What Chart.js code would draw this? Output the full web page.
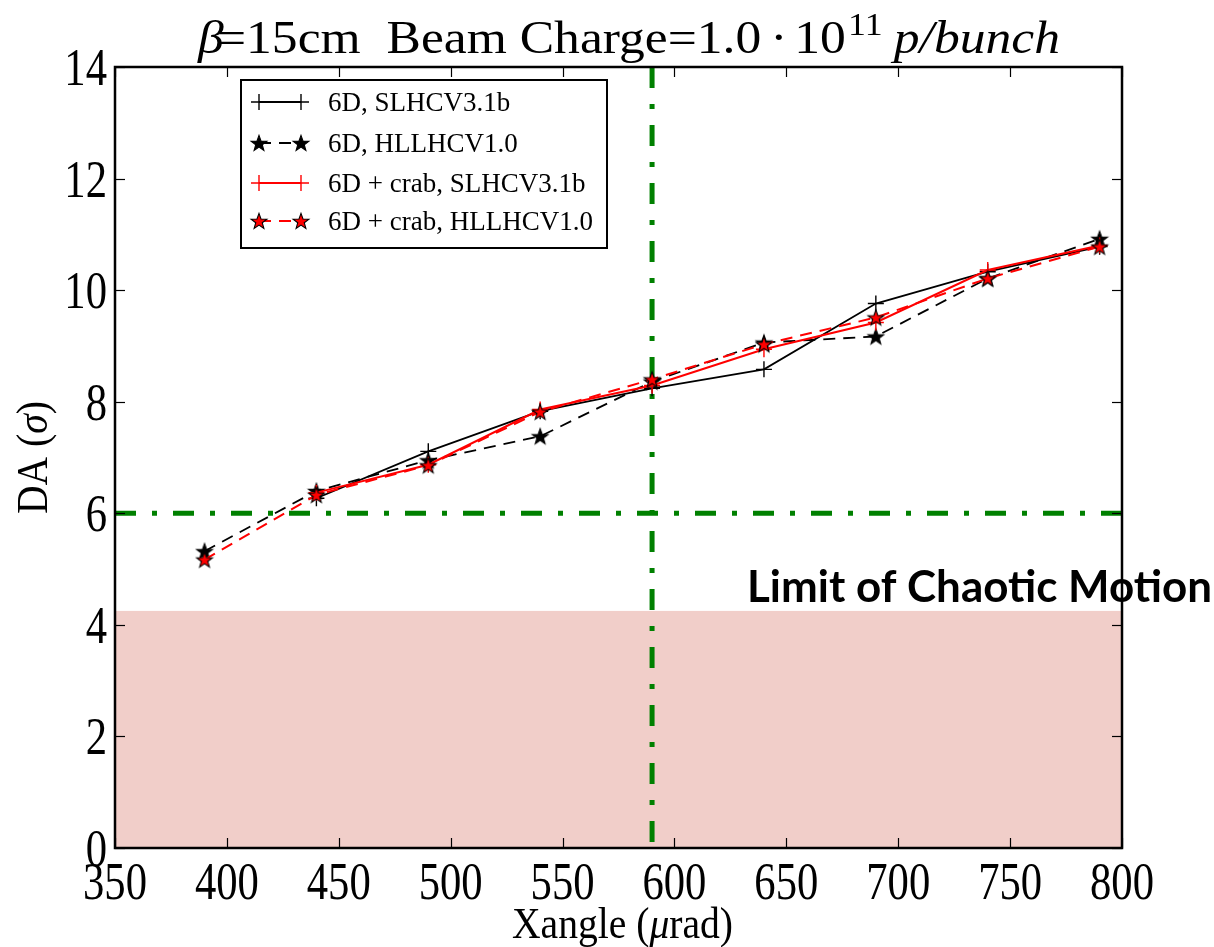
<!DOCTYPE html>
<html>
<head>
<meta charset="utf-8">
<script src="https://cdn.jsdelivr.net/npm/chart.js@4/dist/chart.umd.min.js"></script>
<style>
  html, body { margin: 0; padding: 0; background: #ffffff; }
  #wrap { width: 1214px; height: 947px; position: relative; }
</style>
</head>
<body>
<div id="wrap"><canvas id="c" width="1214" height="947"></canvas></div>
<script>
// Crossing angle scan points (µrad)
const xangles = [390, 440, 490, 540, 590, 640, 690, 740, 790];

// Dynamic aperture (sigma) per configuration
const da6dSLHC      = [null, 6.27, 7.11, 7.83, 8.24, 8.58, 9.76, 10.33, 10.78];
const da6dHLLHC     = [5.32, 6.40, 6.95, 7.38, 8.36, 9.06, 9.17, 10.21, 10.92];
const daCrabSLHC    = [null, 6.37, 6.87, 7.86, 8.29, 8.94, 9.42, 10.36, 10.80];
const daCrabHLLHC   = [5.17, 6.33, 6.86, 7.82, 8.40, 9.03, 9.51, 10.21, 10.78];

const seriesLabels = [
  '6D, SLHCV3.1b',
  '6D, HLLHCV1.0',
  '6D + crab, SLHCV3.1b',
  '6D + crab, HLLHCV1.0'
];

// Axis ticks
const xTicks = [350, 400, 450, 500, 550, 600, 650, 700, 750, 800];
const yTicks = [0, 2, 4, 6, 8, 10, 12, 14];

// Reference levels
const chaoticLimit = 4.25;   // top of the shaded band
const targetDA = 6;          // horizontal guide
const nominalXangle = 590;   // vertical guide

const SERIF = '"Liberation Serif", "DejaVu Serif", serif';

// Filled five-pointed star used as a marker
function makeStar(fill, edge) {
  const size = 20, c = document.createElement('canvas');
  c.width = size; c.height = size;
  const g = c.getContext('2d');
  const R = 8.3, r = 3.4, cx = size / 2, cy = size / 2 + 0.7;
  g.beginPath();
  for (let i = 0; i < 10; i++) {
    const rad = i % 2 === 0 ? R : r;
    const a = -Math.PI / 2 + i * Math.PI / 5;
    const px = cx + rad * Math.cos(a), py = cy + rad * Math.sin(a);
    if (i === 0) g.moveTo(px, py); else g.lineTo(px, py);
  }
  g.closePath();
  g.fillStyle = fill; g.fill();
  g.lineWidth = 1.1; g.strokeStyle = edge; g.stroke();
  return c;
}
const starBlack = makeStar('#000000', '#000000');
const starRed = makeStar('#ff0000', '#000000');

function pts(vals) {
  return xangles.map((x, i) => ({ x: x, y: vals[i] })).filter(p => p.y !== null);
}

// Draw text with an optional horizontal squeeze; returns drawn width
function drawText(ctx, s, x, y, font, opt) {
  opt = opt || {};
  ctx.save();
  ctx.font = font;
  ctx.textAlign = 'left';
  ctx.textBaseline = opt.baseline || 'alphabetic';
  const w = ctx.measureText(s).width;
  const sx = opt.width ? opt.width / w : (opt.sx || 1);
  let left = x;
  if (opt.align === 'center') left = x - w * sx / 2;
  else if (opt.align === 'right') left = x - w * sx;
  ctx.translate(left, y);
  ctx.scale(sx, 1);
  ctx.fillStyle = opt.color || '#000';
  ctx.fillText(s, 0, 0);
  ctx.restore();
  return w * sx;
}

const seriesStyle = [
  { color: '#000000', dash: [], marker: 'cross', width: 1.8 },
  { color: '#000000', dash: [12, 8], marker: starBlack, width: 1.8 },
  { color: '#ff0000', dash: [], marker: 'cross', width: 2 },
  { color: '#ff0000', dash: [12, 8], marker: starRed, width: 2 }
];

const backgroundPlugin = {
  id: 'bands',
  beforeDatasetsDraw(chart) {
    const { ctx, chartArea: a, scales: { x, y } } = chart;
    ctx.save();
    // shaded band below the chaotic-motion limit
    const yTop = y.getPixelForValue(chaoticLimit), yBot = y.getPixelForValue(0);
    ctx.fillStyle = 'rgb(241,206,201)';
    ctx.fillRect(a.left, yTop, a.right - a.left, yBot - yTop);

    // green dash-dot guides
    ctx.strokeStyle = '#008000';
    ctx.lineWidth = 5;
    ctx.setLineDash([21, 16, 5, 16]);
    const yg = y.getPixelForValue(targetDA);
    ctx.beginPath(); ctx.moveTo(a.left, yg); ctx.lineTo(a.right, yg); ctx.stroke();
    const xg = x.getPixelForValue(nominalXangle);
    ctx.beginPath(); ctx.moveTo(xg, a.top); ctx.lineTo(xg, a.bottom); ctx.stroke();
    ctx.restore();
  }
};

const framePlugin = {
  id: 'frame',
  afterDraw(chart) {
    const { ctx, chartArea: a, scales: { x, y } } = chart;
    ctx.save();
    // tick marks on all four sides, pointing inward
    ctx.strokeStyle = '#000'; ctx.lineWidth = 1.2; ctx.setLineDash([]);
    const tl = 10;
    xTicks.forEach(v => {
      const px = Math.round(x.getPixelForValue(v)) + 0.5;
      ctx.beginPath(); ctx.moveTo(px, a.bottom); ctx.lineTo(px, a.bottom - tl); ctx.stroke();
      ctx.beginPath(); ctx.moveTo(px, a.top); ctx.lineTo(px, a.top + tl); ctx.stroke();
    });
    yTicks.forEach(v => {
      const py = Math.round(y.getPixelForValue(v)) + 0.5;
      ctx.beginPath(); ctx.moveTo(a.left, py); ctx.lineTo(a.left + tl, py); ctx.stroke();
      ctx.beginPath(); ctx.moveTo(a.right, py); ctx.lineTo(a.right - tl, py); ctx.stroke();
    });
    // axes frame
    ctx.lineWidth = 2.5;
    ctx.strokeRect(a.left, a.top, a.right - a.left, a.bottom - a.top);

    // tick labels
    const tickFont = '52px ' + SERIF;
    xTicks.forEach(v => {
      drawText(ctx, String(v), x.getPixelForValue(v), a.bottom + 51, tickFont, { align: 'center', sx: 0.82 });
    });
    yTicks.forEach(v => {
      drawText(ctx, String(v), a.left - 8, y.getPixelForValue(v) + 18, tickFont, { align: 'right', sx: 0.82 });
    });

    // axis titles
    const labFont = '44px ' + SERIF, labItal = 'italic 44px ' + SERIF;
    {
      const sx = 0.9;
      ctx.save(); ctx.font = labFont;
      const w1 = ctx.measureText('Xangle (').width;
      const w3 = ctx.measureText('rad)').width;
      ctx.font = labItal;
      const w2 = ctx.measureText('\u03bc').width;
      ctx.restore();
      const total = (w1 + w2 + w3) * sx;
      let cx = (a.left + a.right) / 2 - total / 2 + 4;
      const base = 938;
      cx += drawText(ctx, 'Xangle (', cx, base, labFont, { sx });
      cx += drawText(ctx, '\u03bc', cx, base, labItal, { sx });
      drawText(ctx, 'rad)', cx, base, labFont, { sx });
    }
    {
      ctx.save();
      ctx.translate(47, (a.top + a.bottom) / 2);
      ctx.rotate(-Math.PI / 2);
      const sx = 0.9;
      ctx.font = labFont;
      const w1 = ctx.measureText('DA (').width, w3 = ctx.measureText(')').width;
      ctx.font = labItal;
      const w2 = ctx.measureText('\u03c3').width;
      let cx = -(w1 + w2 + w3) * sx / 2;
      cx += drawText(ctx, 'DA (', cx, 0, labFont, { sx });
      cx += drawText(ctx, '\u03c3', cx, 0, labItal, { sx });
      drawText(ctx, ')', cx, 0, labFont, { sx });
      ctx.restore();
    }

    // title
    {
      const tf = '46px ' + SERIF, ti = 'italic 46px ' + SERIF, sup = '32px ' + SERIF;
      const parts = [
        { s: '\u03b2', f: ti, dy: 0, gap: -6 },
        { s: '=15cm  Beam Charge=1.0', f: tf, dy: 0, gap: 8 },
        { s: '\u00b7', f: tf, dy: 0, gap: 6 },
        { s: '10', f: tf, dy: 0, gap: 2 },
        { s: '11', f: sup, dy: -18, gap: 10 },
        { s: 'p/bunch', f: ti, dy: 0, gap: 0 }
      ];
      ctx.save();
      let nat = 0;
      parts.forEach(p => { ctx.font = p.f; p.w = ctx.measureText(p.s).width; nat += p.w + p.gap; });
      ctx.restore();
      const left = 198, right = 1060;
      const sx = (right - left) / nat;
      let cx = left;
      const base = 53;
      parts.forEach(p => {
        drawText(ctx, p.s, cx, base + p.dy, p.f, { sx });
        cx += (p.w + p.gap) * sx;
      });
    }

    // legend
    {
      const L = 241, T = 80, R = 607, B = 248;
      ctx.fillStyle = '#fff';
      ctx.fillRect(L, T, R - L, B - T);
      ctx.strokeStyle = '#000'; ctx.lineWidth = 2;
      ctx.strokeRect(L, T, R - L, B - T);
      const rows = [102, 143, 183, 221];
      const x0 = 259, x1 = 301;
      seriesLabels.forEach((lab, i) => {
        const st = seriesStyle[i], yy = rows[i];
        ctx.save();
        ctx.strokeStyle = st.color; ctx.lineWidth = st.width;
        ctx.setLineDash(st.dash);
        ctx.beginPath(); ctx.moveTo(x0, yy); ctx.lineTo(x1, yy); ctx.stroke();
        ctx.setLineDash([]);
        if (st.marker === 'cross') {
          ctx.lineWidth = 1.4;
          [x0, x1].forEach(px => {
            ctx.beginPath(); ctx.moveTo(px - 8, yy); ctx.lineTo(px + 8, yy);
            ctx.moveTo(px, yy - 8); ctx.lineTo(px, yy + 8); ctx.stroke();
          });
        } else {
          [x0, x1].forEach(px => ctx.drawImage(st.marker, px - 10, yy - 10));
        }
        ctx.restore();
        drawText(ctx, lab, 328, yy + 9, '27px ' + SERIF, {});
      });
    }

    // annotation of the shaded band
    drawText(ctx, 'Limit of Chaotic Motion', 747, 602, 'bold 43px Lato, "Open Sans", sans-serif', { width: 465 });
    ctx.restore();
  }
};

const datasets = [da6dSLHC, da6dHLLHC, daCrabSLHC, daCrabHLLHC].map((vals, i) => {
  const st = seriesStyle[i];
  return {
    label: seriesLabels[i],
    data: pts(vals),
    borderColor: st.color,
    backgroundColor: st.color,
    borderWidth: st.width,
    borderDash: st.dash,
    pointStyle: st.marker,
    pointRadius: st.marker === 'cross' ? 8 : 9,
    pointBorderWidth: 1.4,
    pointBorderColor: st.color,
    tension: 0,
    fill: false,
    order: 3 - i
  };
});

new Chart(document.getElementById('c'), {
  type: 'line',
  data: { datasets },
  options: {
    responsive: false,
    animation: false,
    devicePixelRatio: 1,
    layout: { padding: { left: 115, right: 92, top: 67, bottom: 99 } },
    plugins: { legend: { display: false }, tooltip: { enabled: false }, title: { display: false } },
    scales: {
      x: { type: 'linear', min: 350, max: 800, display: false },
      y: { type: 'linear', min: 0, max: 14, display: false }
    }
  },
  plugins: [backgroundPlugin, framePlugin]
});
</script>
</body>
</html>
